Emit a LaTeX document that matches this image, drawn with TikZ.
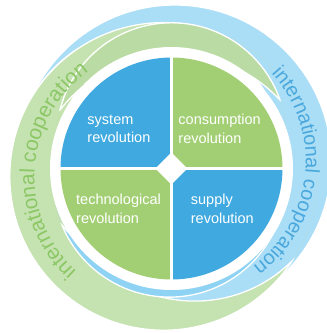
\documentclass[tikz,border=0pt]{standalone}
\usepackage{fontspec}
\setmainfont{Liberation Sans}
\usetikzlibrary{decorations.text}

\definecolor{pieblue}{HTML}{3FA9E0}
\definecolor{piegreen}{HTML}{A3CF74}
\definecolor{ringblue}{HTML}{AADDF6}
\definecolor{stripblue}{HTML}{8ED3F4}
\definecolor{ringgreen}{HTML}{C5E2B1}
\definecolor{stripgreen}{HTML}{BADCA4}
\definecolor{textblue}{HTML}{4AA8DD}
\definecolor{textgreen}{HTML}{8CC766}

% crescent: colour, outer centre, outer radius, inner centre, inner radius
\newcommand\ringpart[5]{%
  \begin{scope}
    \clip #2 circle (#3);
    \fill[#1, even odd rule] #2 circle (#3) #4 circle (#5);
    \draw[edge] #4 circle (#5);
  \end{scope}
  \begin{scope}
    \clip #4 circle (#5) (-400,-400) -- (-400,400) -- (400,400) -- (400,-400) -- cycle;
    \draw[edge] #2 circle (#3);
  \end{scope}}

\begin{document}
\begin{tikzpicture}[x=1pt, y=1pt,
    edge/.style={white, line width=1.3pt},
    pielabel/.style={anchor=west, align=left, text=white, inner sep=0pt,
      font=\fontsize{14.5}{18.5}\selectfont}]
  \useasboundingbox (-171.5,-164.5) rectangle (155.5,168.5);

  % outer rings
  \ringpart{ringblue}{(3.2,6.9)}{156.6}{(-21.5,5.1)}{135.4}
  \ringpart{ringgreen}{(-7.9,-7.9)}{153.8}{(23.2,5.4)}{138}
  \ringpart{stripgreen}{(0,30.85)}{114.85}{(2.75,-30)}{144.5}
  \ringpart{stripblue}{(-2,-12.3)}{116.3}{(-2,30)}{138}

  % ring texts
  \coordinate (gc) at (-7.9,-7.9);
  \coordinate (bc) at (3.2,6.9);
  \path[decorate, decoration={text along path, text align=center, text color=textgreen,
      text={|\fontsize{21}{21}\selectfont|international cooperation}}]
    (gc) ++(259:129) arc[start angle=259, end angle=94, radius=129];
  \path[decorate, decoration={text along path, text align=center, text color=textblue,
      text={|\fontsize{20}{20}\selectfont|international cooperation}}]
    (bc) ++(83:131) arc[start angle=83, end angle=-93.8, radius=131];

  % pie
  \fill[white] (0,0) circle (121.5);
  \fill[pieblue] (0,0) -- (180:111) arc[start angle=180, end angle=90, radius=111] -- cycle;
  \fill[piegreen] (0,0) -- (90:111) arc[start angle=90, end angle=0, radius=111] -- cycle;
  \fill[piegreen] (0,0) -- (180:111) arc[start angle=180, end angle=270, radius=111] -- cycle;
  \fill[pieblue] (0,0) -- (270:111) arc[start angle=270, end angle=360, radius=111] -- cycle;
  \draw[white, line width=3.5pt] (-112,0) -- (112,0) (0,-112) -- (0,112);
  \fill[white] (16,0) -- (0,16) -- (-16,0) -- (0,-16) -- cycle;

  \node[pielabel] (system) at (-84.2,39.5) {system\\revolution};
  \node[pielabel] (consumption) at (6.8,39.5) {consumption\\revolution};
  \node[pielabel] (technological) at (-95.5,-40.5) {technological\\revolution};
  \node[pielabel] (supply) at (19.2,-40.5) {supply\\revolution};
\end{tikzpicture}
\end{document}
